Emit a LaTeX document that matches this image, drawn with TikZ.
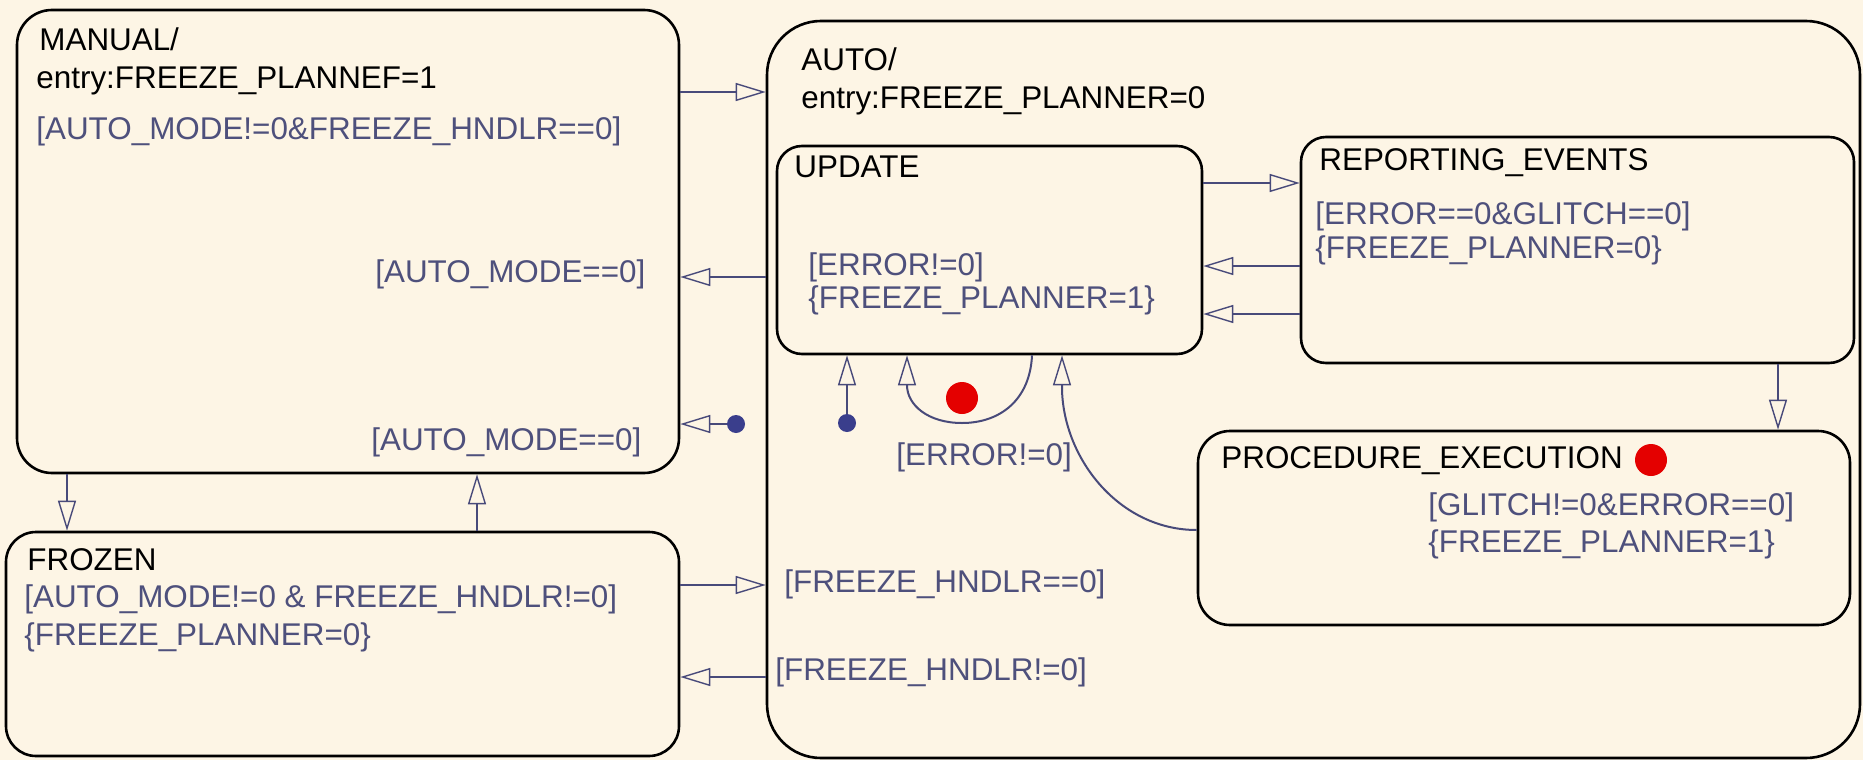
\documentclass[tikz,border=0pt]{standalone}
\usepackage{fontspec}
\setmainfont{Liberation Sans}
\usetikzlibrary{arrows.meta}
\definecolor{bgc}{RGB}{253,245,229}
\definecolor{trc}{RGB}{72,74,122}
\definecolor{labc}{RGB}{78,80,124}
\definecolor{dotc}{RGB}{58,62,140}
\definecolor{redc}{RGB}{228,0,0}
\newcommand\lblfont{\fontsize{15.7pt}{18pt}\selectfont}
\begin{document}
\begin{tikzpicture}[x=0.5pt,y=-0.5pt,
  stbox/.style={draw=black, line width=1.3pt, rectangle, inner sep=0pt},
  trans/.style={draw=trc, line width=1pt, -{Triangle[open, length=15pt, width=9pt, line width=0.7pt]}},
  lbl/.style={text=labc, font=\lblfont, anchor=base west, inner sep=0pt},
  ttl/.style={text=black, font=\lblfont, anchor=base west, inner sep=0pt},
  initdot/.style={circle, fill=dotc, minimum size=9pt, inner sep=0pt},
  hist/.style={circle, fill=redc, minimum size=16pt, inner sep=0pt}]
\fill[bgc] (0,0) rectangle (1863,760);
\useasboundingbox (0,0) rectangle (1863,760);
% states
\node[stbox, rounded corners=17.5pt, minimum width=331pt, minimum height=231.5pt] (manual) at (348,241.5) {};
\node[stbox, rounded corners=27pt, minimum width=546.5pt, minimum height=368.5pt] (auto) at (1313.5,389.5) {};
\node[stbox, rounded corners=12.5pt, minimum width=212.5pt, minimum height=104pt] (update) at (989.5,250) {};
\node[stbox, rounded corners=12.5pt, minimum width=276.5pt, minimum height=113pt] (re) at (1577.5,250) {};
\node[stbox, rounded corners=16pt, minimum width=326pt, minimum height=97pt] (pe) at (1524,528) {};
\node[stbox, rounded corners=15pt, minimum width=336.5pt, minimum height=112pt] (frozen) at (342.5,644) {};
% state texts
\node[ttl] (tman1) at (39,50) {MANUAL/};
\node[ttl] (tman2) at (36,88) {entry:FREEZE\_PLANNEF=1};
\node[ttl] (tauto1) at (801,70) {AUTO/};
\node[ttl] (tauto2) at (801,108) {entry:FREEZE\_PLANNER=0};
\node[ttl] (tupd) at (794,177) {UPDATE};
\node[ttl] (tre) at (1319,170) {REPORTING\_EVENTS};
\node[ttl] (tpe) at (1221,468) {PROCEDURE\_EXECUTION};
\node[ttl] (tfro) at (27,570) {FROZEN};
% labels
\node[lbl] (l1) at (36,139) {[AUTO\_MODE!=0\&FREEZE\_HNDLR==0]};
\node[lbl] (l2) at (375,282) {[AUTO\_MODE==0]};
\node[lbl] (l3) at (371,450) {[AUTO\_MODE==0]};
\node[lbl] (l4) at (808,275) {[ERROR!=0]};
\node[lbl] (l5) at (808,308) {\{FREEZE\_PLANNER=1\}};
\node[lbl] (l6) at (1315,224) {[ERROR==0\&GLITCH==0]};
\node[lbl] (l7) at (1315,258) {\{FREEZE\_PLANNER=0\}};
\node[lbl] (l8) at (896,465) {[ERROR!=0]};
\node[lbl] (l9) at (1428,515) {[GLITCH!=0\&ERROR==0]};
\node[lbl] (l10) at (1428,552) {\{FREEZE\_PLANNER=1\}};
\node[lbl] (l11) at (784,592) {[FREEZE\_HNDLR==0]};
\node[lbl] (l12) at (775,680) {[FREEZE\_HNDLR!=0]};
\node[lbl] (l13) at (24,607) {[AUTO\_MODE!=0 \& FREEZE\_HNDLR!=0]};
\node[lbl] (l14) at (24,645) {\{FREEZE\_PLANNER=0\}};
% dots
\node[initdot] (d1) at (736,424) {};
\node[initdot] (d2) at (847,423) {};
\node[hist] (h1) at (962,398) {};
\node[hist] (h2) at (1651,460) {};
% transitions
\draw[trans] (manual.east |- 0,92) -- (auto.west |- 0,92);
\draw[trans] (auto.west |- 0,277) -- (manual.east |- 0,277);
\draw[trans] (d1) -- (manual.east |- d1);
\draw[trans] (manual.south -| 67,0) -- (frozen.north -| 67,0);
\draw[trans] (frozen.north -| 477,0) -- (manual.south -| 477,0);
\draw[trans] (frozen.east |- 0,585) -- (auto.west |- 0,585);
\draw[trans] (auto.west |- 0,677) -- (frozen.east |- 0,677);
\draw[trans] (update.east |- 0,183) -- (re.west |- 0,183);
\draw[trans] (re.west |- 0,266) -- (update.east |- 0,266);
\draw[trans] (re.west |- 0,314) -- (update.east |- 0,314);
\draw[trans] (re.south -| 1778,0) -- (pe.north -| 1778,0);
\draw[trans] (d2) -- (update.south -| d2);
\draw[trans] (update.south -| 1032,0) .. controls (1030,400) and (1000,423) .. (962,423) .. controls (928,423) and (907,405) .. (907,385) -- (update.south -| 907,0);
\draw[trans] (pe.west |- 0,530) .. controls (1120,530) and (1064,460) .. (1062,390) -- (update.south -| 1062,0);
\end{tikzpicture}
\end{document}
